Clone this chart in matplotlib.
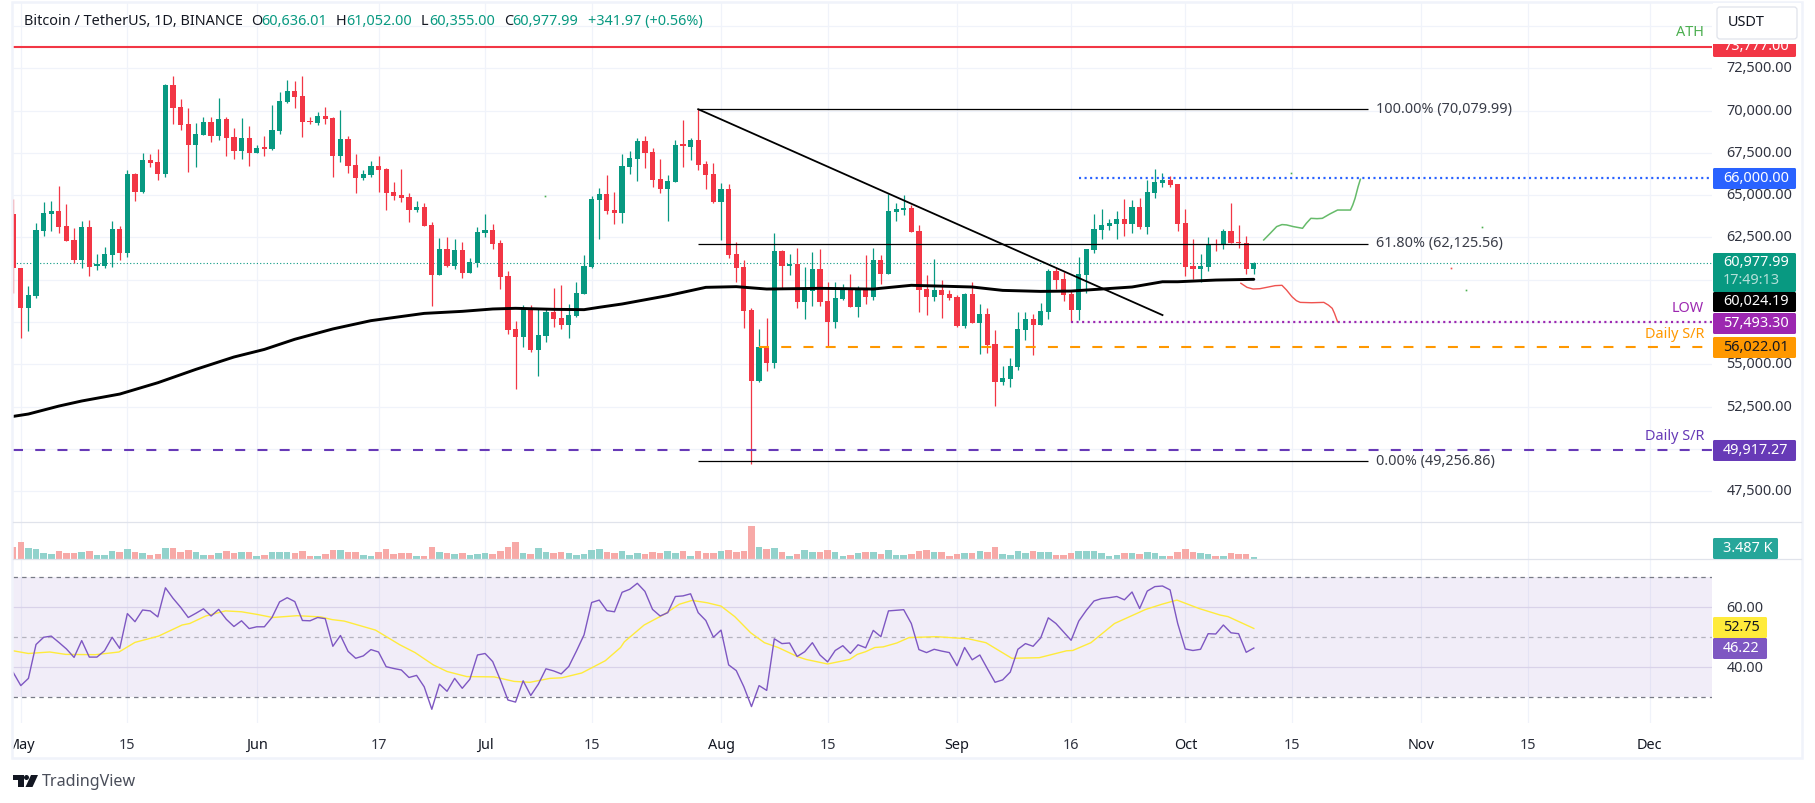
import numpy as np
import matplotlib
matplotlib.use("Agg")
import matplotlib.pyplot as plt
from matplotlib.patches import Rectangle, FancyBboxPatch, Polygon, Circle
from matplotlib.transforms import ScaledTranslation

plt.rcParams['font.family'] = ['Noto Sans', 'DejaVu Sans']
plt.rcParams['lines.scale_dashes'] = False

W, H = 1815, 803
UP, DOWN = '#089981', '#f23645'

# day number, 0 = 1 May 2024
days = np.arange(-1, 163)
opens = [63890, 60670, 58350, 59060, 62900, 63910, 64060, 63180, 62350, 61190,
         63120, 60830, 60830, 61460, 63000, 61600, 66250, 65190, 67080, 66960,
         66270, 71510, 70210, 69210, 67990, 68580, 69330, 68520, 69500, 68440,
         67630, 68380, 67510, 67790, 67750, 68810, 70510, 71160, 70860, 69370,
         69270, 69680, 69560, 67340, 68320, 66780, 66040, 66190, 66720, 66550,
         65190, 65010, 64890, 64120, 64300, 63240, 60280, 61820, 60810, 61760,
         60400, 60970, 62780, 62940, 62170, 60220, 57090, 56610, 58310, 55850,
         56670, 58090, 57740, 57320, 57860, 59180, 60750, 64710, 65070, 64120,
         63950, 66690, 67140, 68200, 67550, 65960, 65370, 65780, 67970, 67850,
         68260, 66840, 66250, 64600, 65370, 61520, 60750, 58210, 54010, 56020,
         55080, 61700, 60810, 60930, 58680, 59330, 60630, 58740, 57500, 58860,
         59510, 58390, 59450, 58980, 61170, 60340, 64000, 64120, 64240, 62880,
         59450, 58980, 59390, 59160, 58980, 57260, 59160, 57440, 57970, 56200,
         53950, 54130, 54840, 57030, 57680, 57320, 58090, 60520, 60040, 59160,
         58210, 60280, 61760, 62940, 63180, 63290, 63590, 63290, 64300, 63120,
         65130, 65720, 65900, 65660, 63350, 60810, 60630, 60750, 62130, 62110,
         62880, 62210, 62150, 60636]
highs = [64770, 60700, 59630, 63330, 64620, 64660, 65540, 64480, 63060, 63470,
         63530, 61520, 61940, 63470, 63180, 66490, 66290, 67470, 67430, 67730,
         71570, 72050, 70690, 70150, 69270, 69620, 69620, 70750, 69620, 68970,
         69560, 69090, 67970, 68500, 70330, 71100, 71810, 71750, 72050, 69620,
         69920, 70210, 69620, 70040, 68500, 67430, 66490, 67020, 67320, 66610,
         65780, 66550, 65130, 64660, 64540, 63430, 62470, 62530, 62410, 62230,
         61280, 63120, 63890, 63290, 62350, 60520, 57560, 58510, 58510, 58270,
         58310, 59510, 59690, 58570, 59870, 61460, 64950, 65420, 66190, 65190,
         67430, 67610, 68380, 68500, 67790, 67140, 66190, 68260, 69440, 68380,
         70080, 67020, 66900, 65720, 65660, 62230, 61170, 58330, 57090, 57740,
         62760, 61760, 61520, 61880, 60750, 61640, 61820, 59870, 59870, 59750,
         60340, 59630, 61460, 61880, 61460, 65070, 64540, 65010, 64420, 63240,
         60280, 61230, 59980, 59390, 59100, 59220, 59870, 58570, 58330, 57030,
         54900, 55370, 58090, 58090, 57970, 58620, 60630, 60690, 60460, 59390,
         61340, 61820, 63890, 64180, 63590, 64060, 64770, 64710, 64830, 65900,
         66550, 66310, 66130, 65660, 64180, 62410, 61520, 62530, 62410, 63000,
         64540, 63240, 62590, 61052]
lows = [59200, 56570, 56990, 58900, 62600, 62900, 62780, 62310, 60970, 60670,
        60240, 60570, 60670, 60770, 61170, 61360, 64670, 65150, 66690, 65920,
        66090, 69230, 68870, 66390, 66690, 68560, 68160, 68260, 67340, 67160,
        67160, 66740, 67510, 67340, 67690, 68640, 70450, 70170, 68460, 69210,
        69170, 69210, 66090, 66960, 66330, 65150, 65920, 66090, 65210, 64140,
        64710, 64620, 63430, 64000, 63200, 58470, 60280, 60750, 60630, 60120,
        60400, 60750, 62530, 61820, 59450, 56790, 53540, 56020, 55730, 54310,
        56320, 57210, 57090, 56550, 57800, 59180, 60690, 62410, 63890, 63290,
        63350, 66250, 65840, 66610, 65480, 65130, 63470, 65780, 66670, 67080,
        66490, 65370, 64540, 62350, 61280, 59870, 57150, 49100, 53950, 54600,
        54780, 59510, 60280, 58330, 57680, 58450, 58450, 56020, 57150, 58800,
        58390, 57800, 58570, 58800, 59750, 60340, 63470, 63830, 62820, 58090,
        57910, 58740, 57740, 58800, 57210, 57150, 57440, 55610, 55670, 52530,
        53770, 53660, 54660, 56440, 55550, 57320, 57680, 59450, 58740, 57500,
        57620, 59220, 61580, 62410, 62940, 62410, 62590, 62760, 63000, 62700,
        64830, 65480, 65480, 62880, 60220, 60040, 59870, 60520, 61700, 61820,
        62150, 61880, 60340, 60355]
closes = [60670, 58350, 59100, 62940, 63930, 64060, 63120, 62310, 61190, 63120,
          60770, 60870, 61500, 63000, 61600, 66250, 65210, 67080, 66920, 66270,
          71510, 70170, 69150, 67990, 68620, 69330, 68520, 69500, 68400, 67630,
          68380, 67510, 67790, 67750, 68850, 70570, 71160, 70820, 69350, 69330,
          69680, 69520, 67340, 68320, 66740, 66040, 66250, 66720, 66510, 65150,
          64970, 64830, 64140, 64300, 63200, 60280, 61820, 60810, 61760, 60400,
          61050, 62820, 62940, 62110, 60160, 57030, 56610, 58310, 55850, 56730,
          58090, 57680, 57320, 57910, 59220, 60810, 64770, 65070, 64060, 63950,
          66720, 67200, 68200, 67490, 65900, 65370, 65840, 67970, 67930, 68260,
          66780, 66190, 64600, 65370, 61460, 60690, 58150, 54010, 56020, 55080,
          61700, 60810, 60930, 58680, 59390, 60630, 58680, 57500, 58920, 59510,
          58390, 59450, 58980, 61170, 60340, 64060, 64180, 64240, 62820, 59390,
          58980, 59390, 59100, 58920, 57260, 59160, 57440, 57970, 56140, 53950,
          54190, 54900, 57090, 57680, 57320, 58150, 60520, 59980, 59100, 58210,
          60340, 61820, 63000, 63240, 63350, 63590, 63290, 64300, 63120, 65190,
          65780, 65900, 65600, 63290, 60750, 60630, 60810, 62130, 62050, 62880,
          62150, 62150, 60630, 60978]
volumes = [76, 108, 72, 66, 38, 32, 53, 40, 40, 47,
           53, 28, 28, 53, 47, 66, 47, 40, 28, 34,
           72, 72, 47, 59, 47, 28, 28, 40, 53, 40,
           47, 47, 21, 28, 47, 47, 47, 40, 53, 21,
           21, 34, 59, 59, 47, 47, 28, 21, 47, 66,
           34, 40, 40, 21, 21, 78, 47, 40, 34, 40,
           28, 34, 40, 34, 53, 78, 110, 40, 34, 72,
           47, 40, 47, 40, 28, 34, 59, 66, 47, 40,
           53, 28, 40, 34, 47, 40, 53, 40, 53, 21,
           53, 40, 40, 53, 59, 47, 53, 212, 78, 66,
           72, 47, 21, 34, 59, 47, 47, 59, 47, 21,
           28, 40, 47, 47, 34, 59, 28, 28, 34, 53,
           59, 47, 47, 21, 34, 40, 40, 53, 47, 78,
           34, 28, 53, 40, 53, 47, 47, 28, 28, 40,
           53, 53, 53, 40, 21, 28, 40, 40, 34, 47,
           40, 21, 21, 47, 66, 47, 38, 32, 19, 19,
           38, 32, 32, 13]
rsi = [38.1, 33.7, 36.1, 47.4, 49.8, 50.2, 48.1, 45.9, 43.1, 48.7,
       43.2, 43.2, 45.3, 49.8, 46.1, 57.7, 55.0, 58.9, 58.6, 56.6,
       66.3, 62.8, 59.8, 56.4, 57.8, 59.3, 56.9, 59.1, 55.8, 53.4,
       55.3, 52.7, 53.3, 53.3, 56.4, 61.6, 63.0, 61.7, 55.4, 55.3,
       56.4, 56.0, 46.8, 50.4, 45.1, 42.8, 43.6, 45.7, 44.9, 40.0,
       39.4, 38.9, 36.4, 37.1, 33.3, 25.8, 34.2, 31.8, 36.1, 32.8,
       35.8, 43.9, 44.4, 41.7, 35.6, 28.9, 28.2, 35.3, 30.4, 34.2,
       39.3, 38.6, 37.6, 40.1, 45.2, 50.6, 61.4, 62.2, 58.7, 58.3,
       64.8, 65.8, 67.8, 65.1, 59.1, 56.9, 58.0, 63.4, 63.6, 64.3,
       58.0, 55.4, 49.8, 52.2, 40.6, 38.7, 33.3, 26.7, 33.7, 32.1,
       49.3, 47.7, 47.9, 43.4, 45.0, 48.0, 43.9, 41.6, 45.4, 47.0,
       44.4, 47.3, 46.3, 52.1, 50.0, 58.6, 58.8, 59.0, 54.4, 45.7,
       44.7, 45.8, 45.2, 44.7, 40.3, 46.4, 42.3, 43.9, 39.3, 34.8,
       35.6, 38.2, 45.8, 47.7, 46.8, 49.6, 56.3, 54.4, 51.6, 48.8,
       55.2, 58.8, 61.9, 62.7, 63.0, 63.4, 62.3, 64.9, 59.4, 65.2,
       66.7, 66.9, 65.6, 54.4, 45.9, 45.4, 45.8, 51.0, 50.9, 53.9,
       51.3, 51.0, 44.8, 46.22]

ma_days = [-1, 1, 5, 8, 13, 18, 23, 28, 32, 36, 41, 46, 53, 58, 62, 65, 70, 74, 76, 79,
           85, 90, 94, 98, 105, 112, 117, 125, 129, 134, 138, 142, 146, 150, 152, 157, 162]
ma_values = [51920, 52060, 52530, 52830, 53240, 53910, 54700, 55430, 55880, 56480,
             57090, 57580, 58010, 58130, 58270, 58310, 58250, 58230, 58370, 58565,
             59060, 59550, 59590, 59450, 59490, 59450, 59670, 59570, 59370, 59310,
             59330, 59450, 59570, 59880, 59880, 59980, 60024]

sig_days = [-1, 1, 3.8, 5.9, 9.8, 12.9, 15, 18.1, 21.2, 22.2, 24.3, 26.9, 29, 31.1, 33.1, 36.3,
            39.4, 40.9, 42.5, 46.6, 49.8, 51.8, 54.2, 56, 58.6, 62.2, 64.8, 66.9, 69.5, 71.1,
            73.7, 76.8, 78.8, 79.3, 81.9, 84.5, 86.5, 88.2, 90.2, 92, 93.8, 95.9, 97.7, 99.5,
            102.1, 103.2, 106, 108.9, 109.9, 111, 112.2, 113.3, 115.1, 116.7, 120.3, 124.5,
            126.8, 130.2, 133.8, 137.4, 138.2, 140.6, 143.7, 147.8, 149.9, 151.9, 154.8,
            157.6, 158.6, 162]
sig_values = [45.3, 44.4, 44.9, 44.1, 44.0, 44.9, 48.1, 50.2, 53.9, 54.4, 56.9, 58.6, 58.3, 57.4,
              56.4, 57.0, 56.6, 55.7, 55.2, 52.2, 47.3, 44.7, 40.6, 38.4, 36.7, 36.6, 35.1, 34.8,
              36.1, 36.3, 37.9, 42.0, 46.4, 48.3, 53.9, 57.4, 60.8, 62.1, 61.3, 60.2, 56.7, 51.3,
              48.0, 46.4, 43.3, 42.4, 40.9, 42.4, 44.1, 45.0, 46.4, 46.6, 47.9, 49.7, 50.0, 49.3,
              48.0, 42.8, 43.0, 45.3, 45.4, 48.0, 54.4, 59.1, 60.8, 62.2, 59.4, 57.2, 56.7, 52.75]

# hand drawn projections
bull_days = [163.3, 164.15, 165.0, 165.7, 166.3, 167.2, 168.4, 168.9, 169.5, 170.3,
             171.0, 172.0, 173.0, 173.8, 174.7, 175.0, 175.3, 175.7, 176.0]
bull_prices = [62350, 62740, 63140, 63260, 63240, 63140, 63040, 63335, 63630, 63610,
               63630, 63890, 64120, 64120, 64120, 64420, 64810, 65500, 65940]
bear_days = [160.3, 161.1, 161.9, 162.8, 163.7, 164.8, 165.7, 166.3, 167.0, 167.6,
             168.1, 169.6, 171.2, 171.8, 172.3, 172.6, 173.0]
bear_prices = [59790, 59550, 59450, 59470, 59550, 59650, 59670, 59390, 59000, 58760,
               58660, 58640, 58660, 58500, 58310, 58010, 57520]

# stray pen ticks left on the chart
speck_days = [68.9, 166.9, 192.0, 189.9]
speck_prices = [64950, 66310, 63135, 59410]
speck_red_day, speck_red_price = 187.9, 60710

ATH = 73777.00
SWING_HIGH = 70079.99
FIB_618 = 62125.56
SWING_LOW = 49256.86
RESIST = 66000.00
LOW = 57493.30
SR_ORANGE = 56022.01
SR_PURPLE = 49917.27
LAST = 60977.99

price_ticks = [47500, 50000, 52500, 55000, 57500, 60000, 62500, 65000, 67500, 70000, 72500, 75000]
# these sit behind the price tags or the currency button in the reference
hidden_price_labels = [50000, 57500, 60000, 75000]
rsi_ticks = [40, 60]
time_ticks = [0, 14, 31, 47, 61, 75, 92, 106, 123, 138, 153, 167, 184, 198, 214]
time_labels = ['May', '15', 'Jun', '17', 'Jul', '15', 'Aug', '15', 'Sep', '16', 'Oct', '15', 'Nov', '15', 'Dec']
months = ['May', 'Jun', 'Jul', 'Aug', 'Sep', 'Oct', 'Nov', 'Dec']


def pane(x0, y0, x1, y1):
    return fig.add_axes([x0 / W, 1 - y1 / H, (x1 - x0) / W, (y1 - y0) / H])


fig = plt.figure(figsize=(W / 100 + 1e-4, H / 100 + 1e-4), dpi=100, facecolor='white')
ax = pane(13, 3, 1712, 521.7)
ax_vol = pane(13, 521.7, 1712, 559.3)
ax_rsi = pane(13, 559.3, 1712, 723)
XLIM = (-1.025, 222.2)

for a in (ax, ax_vol, ax_rsi):
    a.set_xlim(*XLIM)
    a.set_xticks(time_ticks)
    a.grid(True, axis='x', color='#f0f3fa', lw=0.9, zorder=0)
    a.set_axisbelow(True)
    a.tick_params(length=0, labelbottom=False, labelleft=False)
    for s in a.spines.values():
        s.set_visible(False)

# price pane
ax.set_ylim(45694, 76361)
ax.set_yticks(price_ticks)
ax.set_yticklabels(['' if v in hidden_price_labels else f'{v:,.2f}' for v in price_ticks],
                   fontsize=10.4, color='#303340')
ax.yaxis.tick_right()
ax.tick_params(axis='y', length=0, pad=10.5, labelright=True, labelleft=False)
ax.grid(True, axis='y', color='#f0f3fa', lw=0.9, zorder=0)
lift = ScaledTranslation(0, 1.5 / 100, fig.dpi_scale_trans)
for t in ax.get_yticklabels(which='major'):
    t.set_transform(t.get_transform() + lift)

o, h, l, c = map(np.array, (opens, highs, lows, closes))
colors = [UP if ci >= oi else DOWN for oi, ci in zip(o, c)]
ax.vlines(days, l, h, colors=colors, lw=0.9, zorder=3)
ax.bar(days, np.maximum(np.abs(c - o), 70), bottom=np.minimum(o, c), width=0.68, color=colors, lw=0, zorder=3)

ax.axhline(LAST, color=UP, lw=0.8, ls=(0, (0.8, 1.6)), zorder=2)
ax.axhline(ATH, color=DOWN, lw=1.5, zorder=4)
ax.axhline(SR_PURPLE, color='#673ab7', lw=1.5, ls=(0, (7.2, 8.8)), zorder=4)
ax.hlines(SR_ORANGE, 97, XLIM[1], color='#ff9800', lw=1.5, ls=(0, (7.2, 8.8)), zorder=4)
ax.hlines(RESIST, 139, XLIM[1], color='#2962ff', lw=1.6, ls=(0, (1.5, 2.5)), zorder=4)
ax.hlines(LOW, 138, XLIM[1], color='#9c27b0', lw=1.6, ls=(0, (1.5, 2.5)), zorder=4)
for level in (SWING_HIGH, FIB_618, SWING_LOW):
    ax.hlines(level, 89, 177, color='black', lw=0.9, zorder=5)
ax.plot(ma_days, ma_values, color='black', lw=2.1, zorder=4, solid_capstyle='round')
ax.plot([89, 150], [SWING_HIGH, 57910], color='black', lw=1.3, zorder=5)
ax.plot(bull_days, bull_prices, color='#66bb6a', lw=1.1, zorder=5)
ax.plot(bear_days, bear_prices, color='#ef5350', lw=1.0, zorder=5)
ax.plot(speck_days, speck_prices, ls='none', marker='s', ms=1.2, mew=0, color='#4caf50', zorder=5)
ax.plot([speck_red_day], [speck_red_price], ls='none', marker='s', ms=1.2, mew=0, color='#ef5350', zorder=5)

fib_style = dict(fontsize=10.4, color='#3a3d48', va='center', zorder=6)
ax.text(178, SWING_HIGH, f'100.00% ({SWING_HIGH:,.2f})', **fib_style)
ax.text(178, FIB_618, f'61.80% ({FIB_618:,.2f})', **fib_style)
ax.text(178, SWING_LOW, f'0.00% ({SWING_LOW:,.2f})', **fib_style)

# volume pane
ax_vol.set_ylim(0, 239.3)
ax_vol.set_yticks([])
vol_colors = ['#92d2cc' if ci >= oi else '#f7a9a7' for oi, ci in zip(o, c)]
ax_vol.bar(days, volumes, width=0.86, color=vol_colors, lw=0, zorder=3)

# rsi pane
ax_rsi.set_ylim(21.23, 75.8)
ax_rsi.set_yticks(rsi_ticks)
ax_rsi.set_yticklabels([f'{v:.2f}' for v in rsi_ticks], fontsize=10.4, color='#303340')
ax_rsi.yaxis.tick_right()
ax_rsi.tick_params(axis='y', length=0, pad=10.5, labelright=True, labelleft=False)
ax_rsi.tick_params(axis='x', length=0, labelbottom=True, pad=11)
ax_rsi.set_xticklabels(time_labels, fontsize=10.4, color='#303340')
for t in ax_rsi.get_xticklabels():
    if t.get_text() in months:
        t.set_color('#131722')
        t.set_fontweight('bold')
ax_rsi.grid(True, axis='y', color='#e4e1ee', lw=0.9, zorder=1)
ax_rsi.axhspan(30, 70, color='#7e57c2', alpha=0.1, lw=0, zorder=1)
for level, alpha in ((70, 1), (50, 0.5), (30, 1)):
    ax_rsi.axhline(level, color='#787b86', lw=0.9, alpha=alpha, ls=(0, (3.2, 3)), zorder=2)
ax_rsi.plot(sig_days, sig_values, color='#ffeb3b', lw=1.0, zorder=3)
ax_rsi.plot(days, rsi, color='#7e57c2', lw=1.0, zorder=4)

# chrome in pixel coordinates: frame, legend, price tags, logo
top = fig.add_axes([0, 0, 1, 1], facecolor='none')
top.set_xlim(0, W)
top.set_ylim(H, 0)
top.axis('off')

top.add_patch(Rectangle((0, 0), 12, H, fc='white', ec='none', zorder=1))
top.add_patch(Rectangle((12, 2), 1790, 756, fc='none', ec='#f0f3fa', lw=1.8, zorder=2))
for yy in (521.7, 559.3):
    top.plot([13, 1801], [yy, yy], color='#e0e3eb', lw=0.9, zorder=2)


def tag(y0, y1, fc, x1=1796):
    top.add_patch(FancyBboxPatch((1713, y0), x1 - 1713, y1 - y0, boxstyle='round,pad=0,rounding_size=1.5',
                                 fc=fc, ec='none', zorder=3))


def tag_text(y, s, color='white', **kw):
    top.text(1723, y, s, color=color, fontsize=10.4, va='center', ha='left', zorder=4, **kw)


tag(36, 57, '#f23645')
tag_text(46, '73,777.00')
top.add_patch(Rectangle((1713, 3), 88, 41, fc='white', ec='none', zorder=5))
top.add_patch(FancyBboxPatch((1717, 7), 80, 32, boxstyle='round,pad=0,rounding_size=3',
                             fc='white', ec='#e0e3eb', lw=0.9, zorder=6))
top.text(1728, 22.5, 'USDT', fontsize=10.4, color='#131722', va='center', zorder=7)

tag(168, 189, '#2962ff')
tag_text(178, '66,000.00')
tag(253, 292, '#089981')
tag_text(262.5, '60,977.99')
tag_text(280.5, '17:49:13', color='#b5e0d9')
tag(292, 312, '#000000')
tag_text(301.5, '60,024.19')
tag(313, 334, '#9c27b0')
tag_text(323, '57,493.30')
tag(337, 358, '#ff9800')
tag_text(347, '56,022.01', color='#131722')
tag(440, 461, '#673ab7')
tag_text(450, '49,917.27')
tag(538, 559, '#26a69a', x1=1778)
tag_text(548, '3.487 K')
tag(617, 638, '#ffeb3b', x1=1767)
tag_text(627.5, '52.75', color='#131722')
tag(638, 659, '#7e57c2', x1=1767)
tag_text(648.5, '46.22')

for y, s, col in ((32.5, 'ATH', '#4caf50'), (308, 'LOW', '#9c27b0'),
                  (334, 'Daily S/R', '#ff9800'), (436.5, 'Daily S/R', '#673ab7')):
    top.text(1704, y, s, color=col, fontsize=10.4, ha='right', va='center', zorder=4, fontweight='semibold')

legend_y = 21.5
top.text(24, legend_y, 'Bitcoin / TetherUS, 1D, BINANCE', fontsize=10.4, color='#131722', va='center')
for x, s, col in ((251, 'O', '#131722'), (261, '60,636.01', UP), (336, 'H', '#131722'), (346, '61,052.00', UP),
                  (421, 'L', '#131722'), (429, '60,355.00', UP), (504, 'C', '#131722'), (512, '60,977.99', UP),
                  (588, '+341.97 (+0.56%)', UP)):
    top.text(x, legend_y, s, fontsize=10.4, color=col, va='center')

# logo
top.add_patch(Polygon([(13, 775), (24, 775), (24, 787), (18, 787), (18, 780), (13, 780)], fc='#131722', ec='none'))
top.add_patch(Circle((26.5, 777.5), 2.5, fc='#131722', ec='none'))
top.add_patch(Polygon([(31, 775), (38, 775), (32.5, 787), (25.5, 787)], fc='#131722', ec='none'))
top.text(42, 781.5, 'TradingView', fontsize=11.6, color='#4a4e5a', va='center')

fig.savefig('out.png', dpi=100, facecolor='white')
